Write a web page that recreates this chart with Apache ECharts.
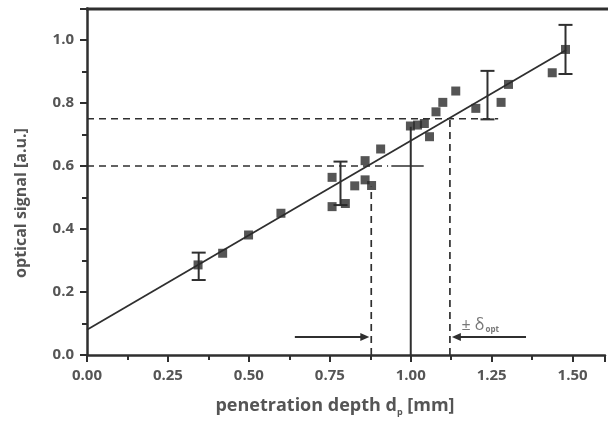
<!DOCTYPE html>
<html>
<head>
<meta charset="utf-8">
<script src="https://cdn.jsdelivr.net/npm/echarts@6/dist/echarts.min.js"></script>
<style>
  html, body { margin: 0; padding: 0; background: #ffffff; }
  #chart { width: 608px; height: 423px; }
</style>
</head>
<body>
<div id="chart"></div>
<script>
// Measured points: penetration depth (mm) vs optical signal (a.u.)
const depth = [0.343, 0.419, 0.499, 0.599, 0.757, 0.757, 0.798, 0.827, 0.859, 0.859, 0.879, 0.907,
               0.999, 1.021, 1.042, 1.058, 1.078, 1.099, 1.139, 1.201, 1.279, 1.302, 1.437, 1.478];
const signal = [0.286, 0.323, 0.381, 0.450, 0.564, 0.471, 0.481, 0.537, 0.617, 0.556, 0.538, 0.654,
                0.727, 0.730, 0.735, 0.693, 0.772, 0.802, 0.838, 0.783, 0.802, 0.859, 0.896, 0.970];

// Error bars (position, lower end, upper end)
const errX = [0.345, 0.783, 1.237, 1.478];
const errLow = [0.238, 0.476, 0.748, 0.892];
const errHigh = [0.325, 0.614, 0.902, 1.048];

// Linear calibration fit, end points
const fitX = [0.0, 1.48];
const fitY = [0.08, 0.968];

// Reading guides
const levelHigh = 0.75, levelLow = 0.60;
const readLow = 0.878, readHigh = 1.121, target = 1.0;
const arrowY = 0.057;
// arrows: start depth, end depth
const arrowFrom = [0.642, 1.356];
const arrowTo = [0.872, 1.127];

// Axis ticks
const xTicks = [0.00, 0.25, 0.50, 0.75, 1.00, 1.25, 1.50];
const yTicks = [0.0, 0.2, 0.4, 0.6, 0.8, 1.0];

const ink = '#2f2f2f';
const labelGrey = '#555555';
const font = '"Open Sans", "Noto Sans", sans-serif';

const chart = echarts.init(document.getElementById('chart'), null, { renderer: 'canvas' });

function seg(points, dashed, width) {
  return {
    type: 'line',
    data: points,
    symbol: 'none',
    silent: true,
    z: 3,
    lineStyle: { color: ink, width: width || 1.7, type: dashed ? [7, 5] : 'solid' },
    animation: false
  };
}

const option = {
  backgroundColor: '#ffffff',
  animation: false,
  grid: { left: 87, top: 8.5, width: 523, height: 346.5, show: false },
  xAxis: {
    type: 'value',
    min: 0, max: 1.6, interval: 0.25,
    axisLine: { show: true, onZero: false, lineStyle: { color: ink, width: 2.5 } },
    axisTick: { show: true, inside: false, length: 7, lineStyle: { color: ink, width: 2 } },
    minorTick: { show: true, splitNumber: 2, length: 5, lineStyle: { color: ink, width: 2 } },
    splitLine: { show: false },
    axisLabel: {
      margin: 13, color: labelGrey, fontSize: 15, fontWeight: 'bold', fontFamily: font,
      formatter: v => (xTicks.some(t => Math.abs(t - v) < 1e-9) ? v.toFixed(2) : '')
    }
  },
  yAxis: {
    type: 'value',
    min: 0, max: 1.1, interval: 0.2,
    axisLine: { show: true, onZero: false, lineStyle: { color: ink, width: 2.5 } },
    axisTick: { show: true, inside: false, length: 7, lineStyle: { color: ink, width: 2 } },
    minorTick: { show: true, splitNumber: 2, length: 5, lineStyle: { color: ink, width: 2 } },
    splitLine: { show: false },
    axisLabel: {
      margin: 13, color: labelGrey, fontSize: 15, fontWeight: 'bold', fontFamily: font,
      formatter: v => (yTicks.some(t => Math.abs(t - v) < 1e-9) ? v.toFixed(1) : '')
    }
  },
  graphic: [
    // top frame line
    { type: 'line', shape: { x1: 86, y1: 9, x2: 608, y2: 9 }, style: { stroke: ink, lineWidth: 3 }, z: 10 },
    {
      type: 'text', x: 21, y: 203, rotation: Math.PI / 2,
      style: {
        text: 'optical signal [a.u.]', fill: labelGrey, font: 'bold 16px ' + font,
        textAlign: 'center', textVerticalAlign: 'middle'
      }
    },
    {
      type: 'text', x: 335, y: 406,
      style: {
        text: '{b|penetration depth d}{s|p}{b| [mm]}',
        textAlign: 'center', textVerticalAlign: 'middle',
        rich: {
          b: { fill: labelGrey, fontSize: 18, fontWeight: 'bold', fontFamily: font },
          s: { fill: labelGrey, fontSize: 9, fontWeight: 'bold', fontFamily: font, padding: [12, 0, 0, 0] }
        }
      }
    }
  ],
  series: [
    // calibration line
    {
      type: 'line',
      data: fitX.map((x, i) => [x, fitY[i]]),
      symbol: 'none', silent: true, z: 4,
      lineStyle: { color: ink, width: 1.8 }
    },
    // guides
    seg([[0, levelHigh], [1.27, levelHigh]], true),
    seg([[0, levelLow], [0.93, levelLow]], true),
    seg([[0.94, levelLow], [1.04, levelLow]], false),
    seg([[readLow, 0], [readLow, 0.535]], true),
    seg([[readHigh, 0], [readHigh, levelHigh]], true),
    seg([[target, 0], [target, 0.725]], false, 2),
    // arrows toward the read-off depths
    {
      type: 'custom',
      silent: true, z: 5,
      data: arrowFrom.map((x, i) => [x, arrowTo[i], arrowY]),
      renderItem: (params, api) => {
        const a = api.coord([api.value(0), api.value(2)]);
        const b = api.coord([api.value(1), api.value(2)]);
        const dir = b[0] > a[0] ? 1 : -1;
        const L = 9, H = 4;
        return {
          type: 'group',
          children: [
            { type: 'line', shape: { x1: a[0], y1: a[1], x2: b[0] - dir * 4, y2: b[1] },
              style: { stroke: ink, lineWidth: 2 } },
            { type: 'polygon', shape: { points: [[b[0], b[1]], [b[0] - dir * L, b[1] - H], [b[0] - dir * L, b[1] + H]] },
              style: { fill: ink } }
          ]
        };
      }
    },
    // error bars
    {
      type: 'custom',
      silent: true, z: 5,
      data: errX.map((x, i) => [x, errLow[i], errHigh[i]]),
      renderItem: (params, api) => {
        const lo = api.coord([api.value(0), api.value(1)]);
        const hi = api.coord([api.value(0), api.value(2)]);
        const w = 7;
        const style = { stroke: ink, lineWidth: 2 };
        return {
          type: 'group',
          children: [
            { type: 'line', shape: { x1: lo[0], y1: lo[1], x2: hi[0], y2: hi[1] }, style },
            { type: 'line', shape: { x1: lo[0] - w, y1: lo[1], x2: lo[0] + w, y2: lo[1] }, style },
            { type: 'line', shape: { x1: hi[0] - w, y1: hi[1], x2: hi[0] + w, y2: hi[1] }, style }
          ]
        };
      }
    },
    // measured points
    {
      type: 'scatter',
      data: depth.map((x, i) => [x, signal[i]]),
      symbol: 'rect', symbolSize: 9, z: 6,
      itemStyle: { color: '#2a2a2a' }
    },
    // ± δopt annotation
    {
      type: 'scatter',
      data: [[1.16, 0.095]],
      symbolSize: 0, silent: true, z: 7,
      label: {
        show: true, position: 'right', offset: [-6, 0],
        formatter: '{a|± δ}{s|opt}',
        rich: {
          a: { color: labelGrey, fontSize: 16, fontFamily: font },
          s: { color: labelGrey, fontSize: 8, fontWeight: 'bold', fontFamily: font, padding: [9, 0, 0, 1] }
        }
      }
    }
  ]
};

chart.setOption(option);
</script>
</body>
</html>
